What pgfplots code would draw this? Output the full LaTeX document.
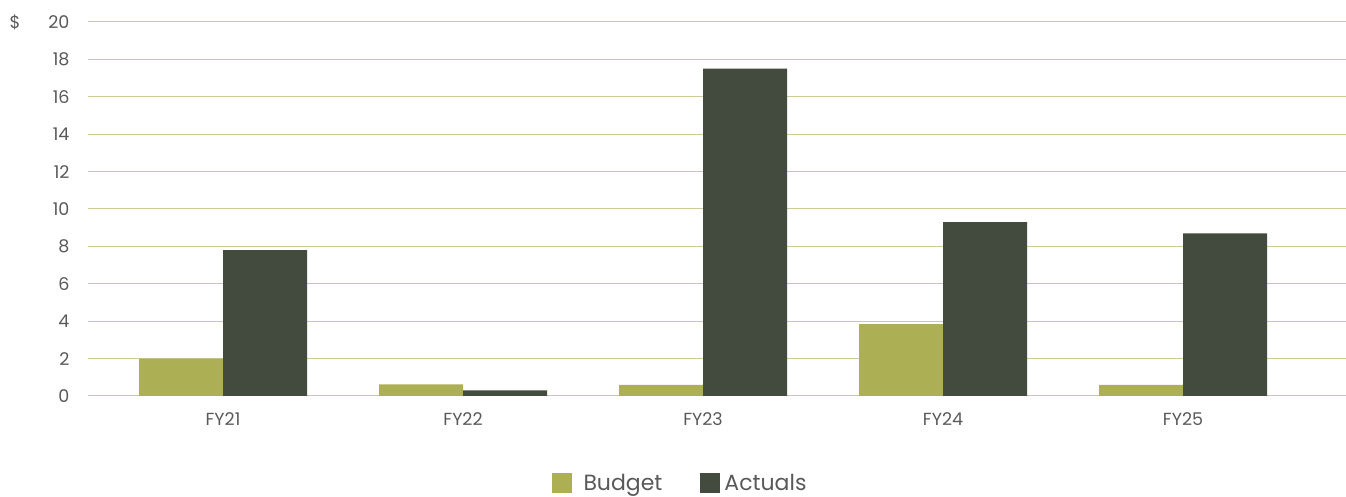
\documentclass[border=0pt]{standalone}
\usepackage{fontspec}
\setmainfont{Poppins}
\usepackage{pgfplots}
\pgfplotsset{compat=1.18}
\definecolor{budgetc}{HTML}{ADAF55}
\definecolor{actualc}{HTML}{434B3F}
\definecolor{gridc}{HTML}{C9CC98}
\definecolor{textc}{HTML}{595959}
\begin{document}
\begin{tikzpicture}
\begin{axis}[
  at={(88pt,101pt)}, anchor=south west,
  scale only axis, width=1258pt, height=374pt,
  ybar=0pt, bar width=84pt,
  xmin=-0.5625, xmax=4.679, ymin=0, ymax=20,
  xtick={0,1,2,3,4},
  xticklabels={FY21,FY22,FY23,FY24,FY25},
  ytick={0,2,...,20},
  ymajorgrids, grid style={color=gridc, line width=1pt},
  axis line style={draw=none},
  major tick length=0pt,
  /pgf/number format/assume math mode=true,
  tick label style={font=\fontsize{17.5}{20}\selectfont, text=textc},
  yticklabel style={xshift=-15pt},
  xticklabel style={yshift=-13pt},
  legend columns=2,
  legend style={at={(axis description cs:0.4706,0)}, anchor=center, yshift=-87pt,
    draw=none, font=\fontsize{22}{26}\selectfont, text=textc,
    /tikz/every even column/.append style={column sep=36pt}},
  legend image code/.code={\fill[#1] (0pt,-10pt) rectangle (20pt,10pt);},
]
\addplot[fill=budgetc, draw=none] coordinates {(0,2.0) (1,0.62) (2,0.6) (3,3.85) (4,0.6)};
\addplot[fill=actualc, draw=none] coordinates {(0,7.8) (1,0.3) (2,17.5) (3,9.3) (4,8.7)};
\legend{\hspace{10pt}Budget, \hspace{2pt}Actuals}
\end{axis}
\node[anchor=west, text=textc, font=\fontsize{17.5}{20}\selectfont] at (6pt,475pt) {\$};
\pgfresetboundingbox
\useasboundingbox (0pt,0pt) rectangle (1346pt,497pt);
\end{tikzpicture}
\end{document}
